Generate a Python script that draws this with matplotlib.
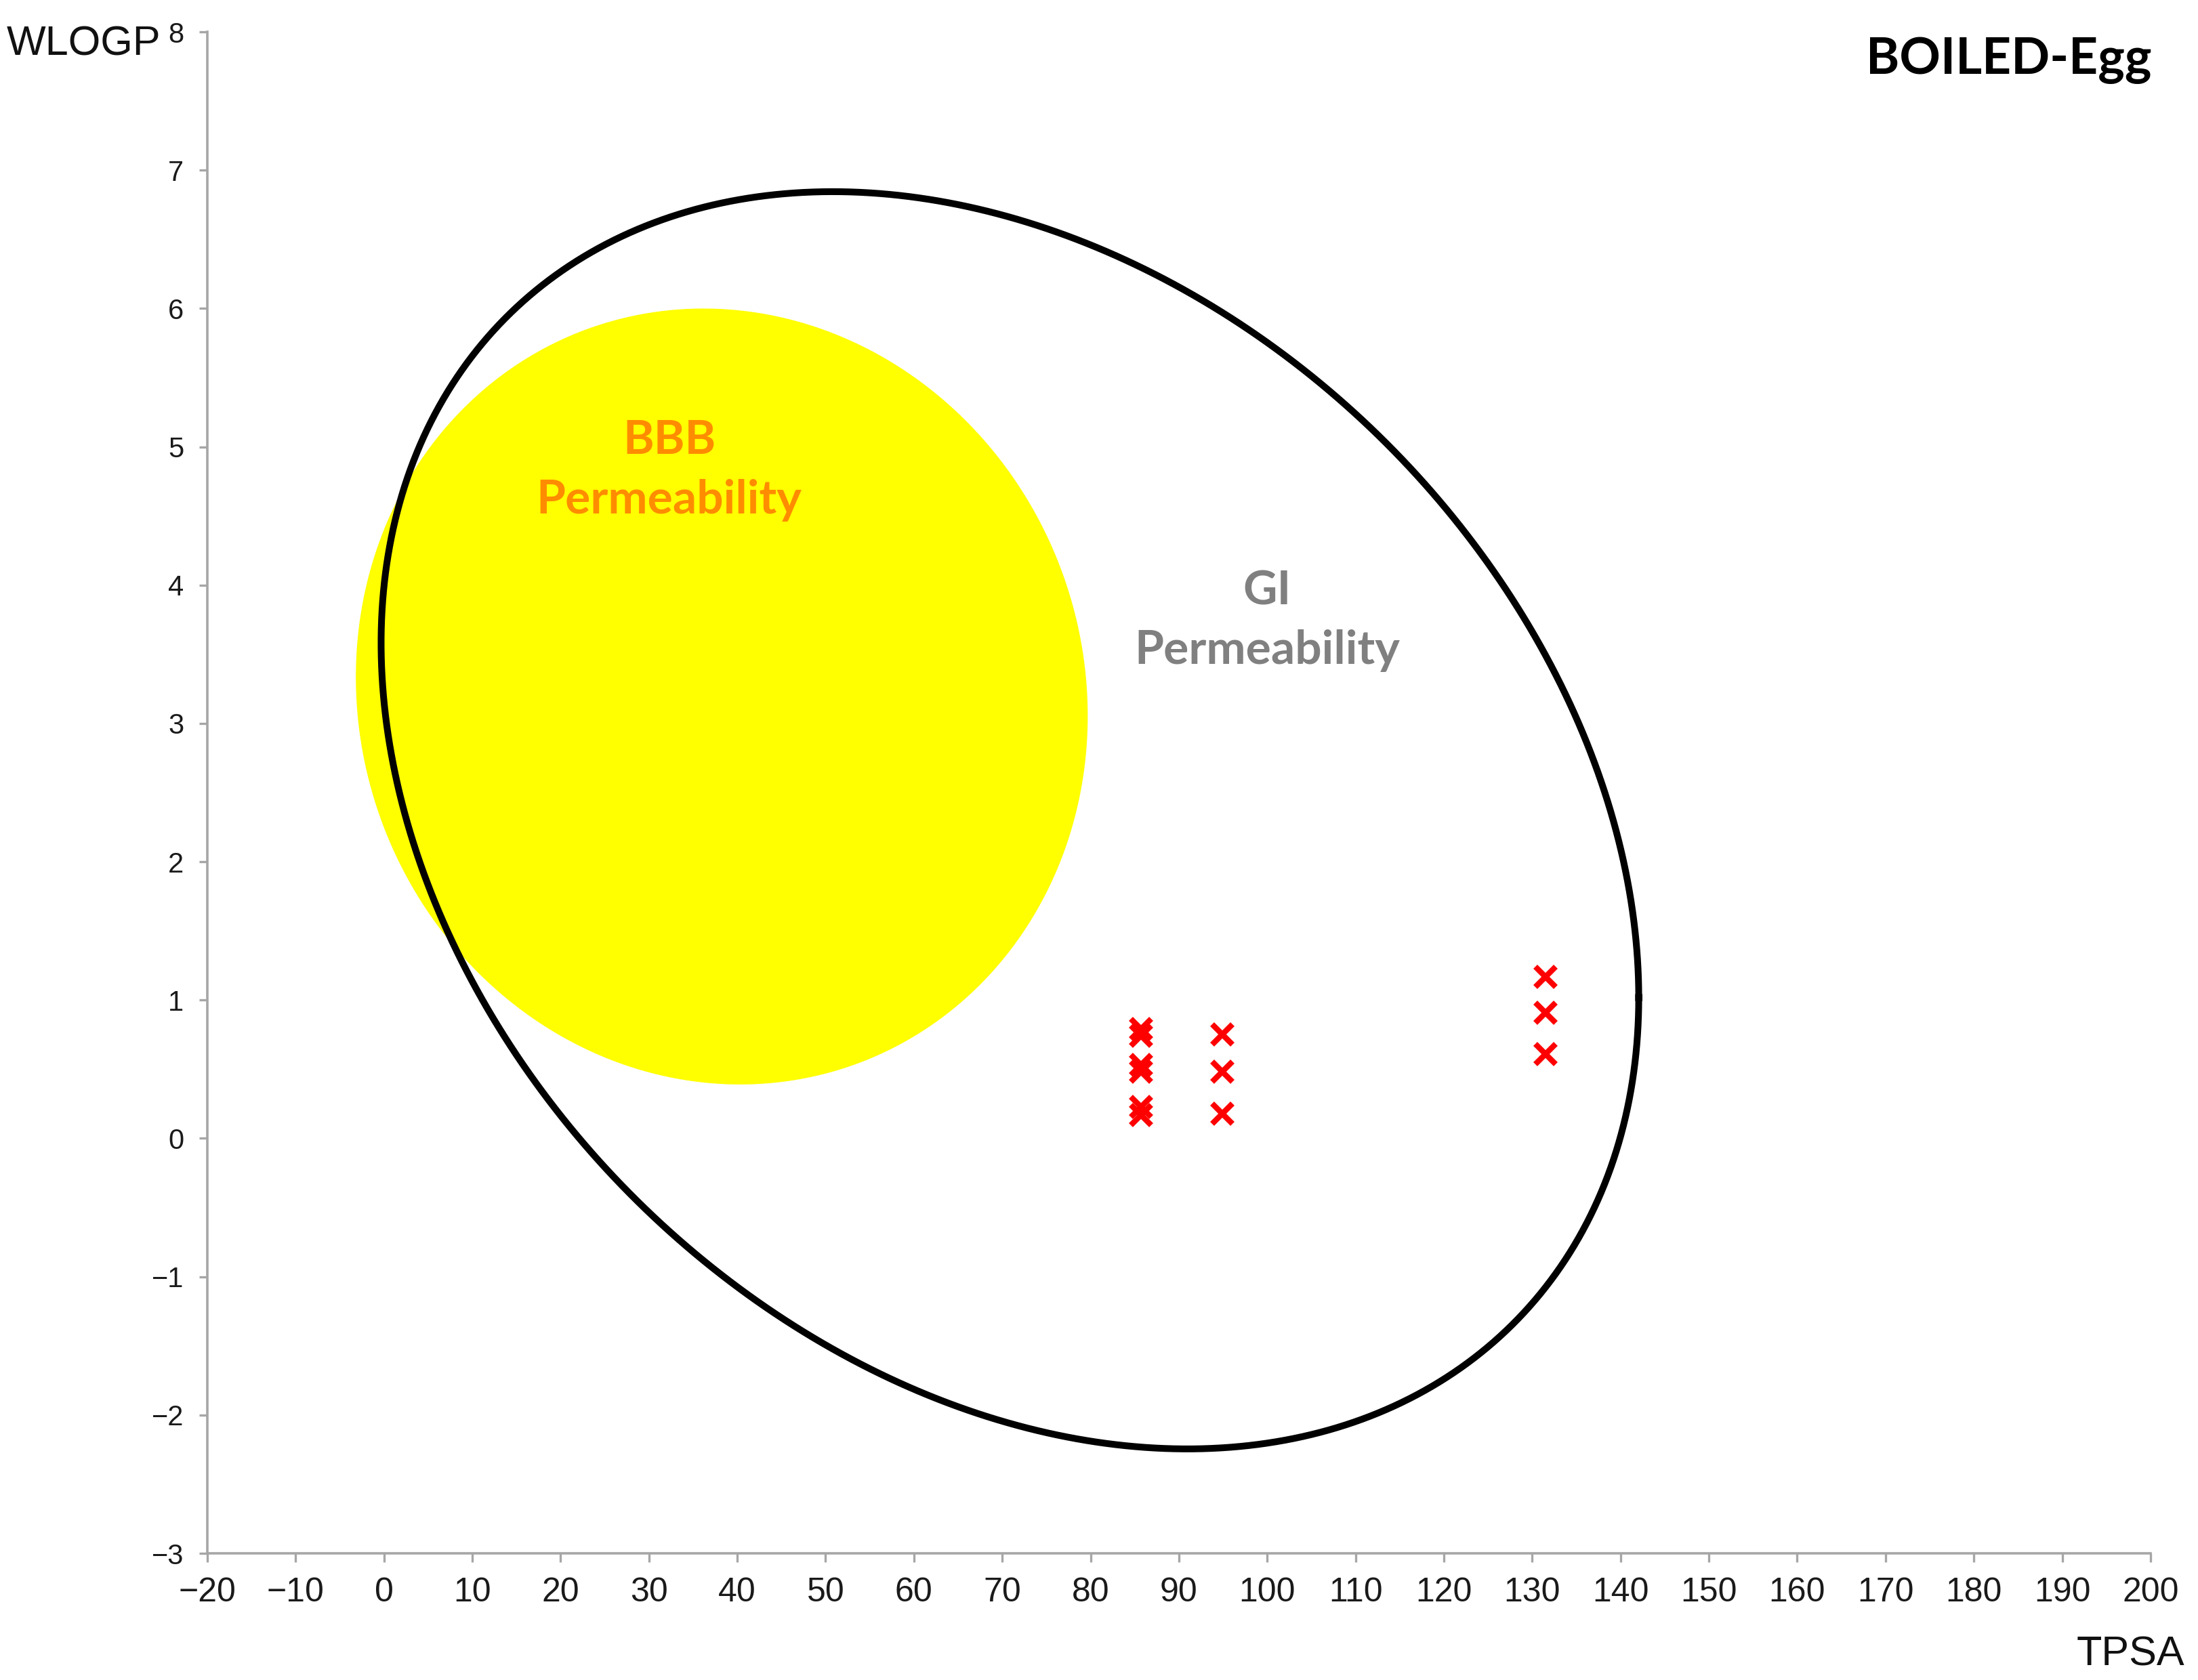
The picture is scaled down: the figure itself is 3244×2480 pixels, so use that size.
import matplotlib
matplotlib.use("Agg")
import matplotlib.pyplot as plt
import numpy as np

# points (TPSA, WLOGP)
tpsa = [85.7, 85.7, 85.7, 85.7, 85.7, 85.7, 94.9, 94.9, 94.9, 131.5, 131.5, 131.5]
wlogp = [0.79, 0.74, 0.53, 0.48, 0.23, 0.17, 0.75, 0.48, 0.18, 1.17, 0.91, 0.61]

# egg outlines: centre x, centre y, half width, half height, tilt (correlation)
white_egg = [70.87, 2.30, 71.19, 4.545, -0.282]
yolk = [38.25, 3.195, 41.43, 2.805, -0.05]

x_ticks = list(range(-20, 201, 10))
y_ticks = list(range(-3, 9))

plt.rcParams['font.family'] = ['Liberation Sans', 'DejaVu Sans']


def egg_curve(cx, cy, wx, wy, rho, n=400):
    t = np.linspace(0, 2 * np.pi, n)
    x = cx + wx * np.cos(t)
    y = cy + wy * (rho * np.cos(t) + np.sqrt(1 - rho ** 2) * np.sin(t))
    return x, y


fig = plt.figure(figsize=(16.22, 12.4), dpi=200)
ax = fig.add_axes([0.0943, 0.0754, 0.9784 - 0.0943, 0.981 - 0.0754])

# yolk (BBB)
yx, yy = egg_curve(*yolk)
ax.fill(yx, yy, color='#ffff00', lw=0, zorder=1)

# white (GI) outline
wx, wy = egg_curve(*white_egg)
ax.plot(wx, wy, color='black', lw=3.6, zorder=2)

# molecules
ax.plot(tpsa, wlogp, ls='none', marker='x', ms=11, mew=3, color='#ff0000', zorder=3)

# region labels
bold = ['Lato', 'DejaVu Sans']
ax.text(32.3, 4.95, 'BBB', ha='center', va='baseline', fontsize=25, fontweight='bold',
        color='#ff8c00', family=bold, zorder=4)
ax.text(32.3, 4.52, 'Permeability', ha='center', va='baseline', fontsize=25, fontweight='bold',
        color='#ff8c00', family=bold, zorder=4)
ax.text(100.0, 3.86, 'GI', ha='center', va='baseline', fontsize=25, fontweight='bold',
        color='#808080', family=bold, zorder=4)
ax.text(100.0, 3.43, 'Permeability', ha='center', va='baseline', fontsize=25, fontweight='bold',
        color='#808080', family=bold, zorder=4)

ax.set_xlim(-20, 200)
ax.set_ylim(-3, 8)
ax.set_xticks(x_ticks)
ax.set_yticks(y_ticks)

for s in ['top', 'right']:
    ax.spines[s].set_visible(False)
for s in ['left', 'bottom']:
    ax.spines[s].set_color('#a6a6a6')
    ax.spines[s].set_linewidth(1.3)

ax.tick_params(axis='x', direction='out', length=4.5, width=1.2, color='#a6a6a6',
               labelsize=18, pad=8, labelcolor='#1a1a1a')
ax.tick_params(axis='y', direction='out', length=4.5, width=1.2, color='#a6a6a6',
               labelsize=15, pad=8, labelcolor='#1a1a1a')

# axis titles and chart title
fig.text(0.003, 0.967, 'WLOGP', ha='left', va='baseline', fontsize=22, color='#111111')
fig.text(0.994, 0.0085, 'TPSA', ha='right', va='baseline', fontsize=22, color='#111111')
fig.text(0.979, 0.956, 'BOILED-Egg', ha='right', va='baseline', fontsize=27,
         fontweight='bold', family=bold, color='black')

fig.savefig('out.png', dpi=200, facecolor='white')
